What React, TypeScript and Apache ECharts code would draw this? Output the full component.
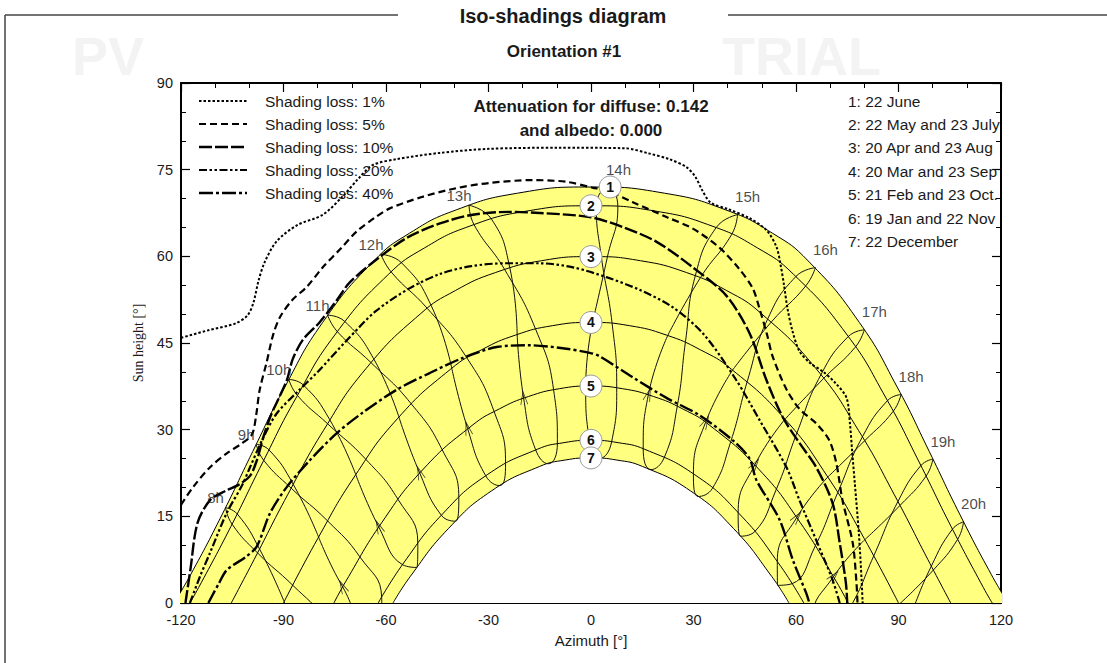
import React, { useEffect, useRef } from "react";
import * as echarts from "echarts";

const FONT = "'Liberation Sans', Arial, Helvetica, sans-serif";

// Sun paths (azimuth °, sun height °)
const PATH_1 = [[-122.06,0],[-117.2,4.89],[-108.0,15.27],[-99.03,26.19],[-89.6,37.39],[-78.55,48.55],[-63.58,59.2],[-53.15,63.99],[-39.45,68.04],[-21.5,70.93],[0,72.0],[21.5,70.93],[39.45,68.04],[53.15,63.99],[63.58,59.2],[78.55,48.55],[89.6,37.39],[99.03,26.19],[108.0,15.27],[117.2,4.89],[122.06,0]];
const PATH_2 = [[-117.43,0],[-114.84,2.67],[-105.42,13.21],[-96.17,24.24],[-86.35,35.47],[-74.78,46.55],[-59.24,56.91],[-48.72,61.46],[-35.44,65.24],[-18.93,67.82],[0,68.75],[18.93,67.82],[35.44,65.24],[48.72,61.46],[59.24,56.91],[74.78,46.55],[86.35,35.47],[96.17,24.24],[105.42,13.21],[114.84,2.67],[117.43,0]];
const PATH_3 = [[-105.29,0],[-98.6,7.52],[-88.8,18.72],[-78.27,29.89],[-65.86,40.57],[-49.83,50.1],[-39.72,54.07],[-27.92,57.2],[-14.49,59.24],[0,59.95],[14.49,59.24],[27.92,57.2],[39.72,54.07],[49.83,50.1],[65.86,40.57],[78.27,29.89],[88.8,18.72],[98.6,7.52],[105.29,0]];
const PATH_4 = [[-90,0],[-79.94,11.19],[-69.08,22.01],[-56.5,32.0],[-41.09,40.47],[-32.03,43.82],[-22.04,46.38],[-11.25,48.0],[0,48.55],[11.25,48.0],[22.04,46.38],[32.03,43.82],[41.09,40.47],[56.5,32.0],[69.08,22.01],[79.94,11.19],[90,0]];
const PATH_5 = [[-75.25,0],[-71.83,3.68],[-61.17,13.98],[-49.04,23.2],[-34.82,30.72],[-26.81,33.6],[-18.25,35.75],[-9.24,37.09],[0,37.55],[9.24,37.09],[18.25,35.75],[26.81,33.6],[34.82,30.72],[49.04,23.2],[61.17,13.98],[71.83,3.68],[75.25,0]];
const PATH_6 = [[-62.28,0],[-54.85,6.92],[-43.44,15.42],[-30.4,22.19],[-15.74,26.6],[-7.94,27.75],[0,28.15],[7.94,27.75],[15.74,26.6],[30.4,22.19],[43.44,15.42],[54.85,6.92],[62.28,0]];
const PATH_7 = [[-57.94,0],[-52.86,4.62],[-41.72,12.89],[-29.1,19.41],[-15.03,23.64],[-7.58,24.74],[0,25.11],[7.58,24.74],[15.03,23.64],[29.1,19.41],[41.72,12.89],[52.86,4.62],[57.94,0]];

// Hour-line points (8h ... 20h) for each date
const HOUR_LABELS = ["8h","9h","10h","11h","12h","13h","14h","15h","16h","17h","18h","19h","20h"];
const JUN = [[-106.96,16.5],[-97.99,27.47],[-88.45,38.69],[-77.11,49.82],[-61.47,60.36],[-35.7,68.85],[5.12,71.94],[42.9,67.22],[65.69,58.04],[79.99,47.28],[90.75,36.09],[100.07,24.91],[109.04,14.04]];
const MAY = [[-103.54,15.41],[-94.26,26.51],[-84.23,37.75],[-72.13,48.76],[-55.43,58.87],[-29.12,66.44],[7.86,68.59],[41.21,63.83],[62.89,54.9],[77.43,44.34],[88.47,33.19],[98.08,21.97],[107.3,11.01]];
const JUL = [[-105.05,13.64],[-95.79,24.69],[-85.93,35.92],[-74.26,46.98],[-58.49,57.3],[-34.25,65.5],[1.55,68.75],[36.63,64.98],[59.99,56.52],[75.3,46.12],[86.77,35.02],[96.55,23.79],[105.79,12.78]];
const APR = [[-97.01,9.34],[-87.17,20.56],[-76.43,31.69],[-63.59,42.25],[-46.79,51.5],[-23.78,58.06],[4.79,59.87],[32.06,56.34],[52.87,48.7],[68.13,38.89],[80.11,28.09],[90.43,16.88],[100.19,5.7]];
const AUG = [[-97.6,8.67],[-87.77,19.88],[-77.11,31.03],[-64.43,41.63],[-47.91,50.99],[-25.3,57.74],[3.03,59.92],[30.54,56.66],[51.75,49.21],[67.29,39.51],[79.43,28.75],[89.83,17.56],[99.6,6.37]];
const MAR = [[-89.8,0.22],[-79.73,11.41],[-68.85,22.22],[-56.22,32.19],[-40.75,40.62],[-21.62,46.46],[0.45,48.55],[22.46,46.3],[41.43,40.32],[56.78,31.81],[69.31,21.8],[80.15,10.97],[90.2,-0.22]];
const SEP = [[-87.29,3.07],[-77.12,14.22],[-65.92,24.88],[-52.73,34.56],[-36.4,42.49],[-16.22,47.4],[6.18,48.38],[27.65,45.23],[45.78,38.45],[60.27,29.44],[72.24,19.14],[82.76,8.16],[92.71,-3.07]];
const OCT = [[-77.74,-2.76],[-67.63,7.97],[-56.45,17.9],[-43.54,26.5],[-28.34,33.11],[-10.95,36.91],[7.53,37.24],[25.25,34.06],[40.89,27.91],[54.19,19.61],[65.65,9.89],[75.9,-0.72],[85.66,-11.79]];
const FEB = [[-82.52,-8.19],[-72.68,2.79],[-62.11,13.16],[-50.13,22.49],[-36.11,30.18],[-19.72,35.46],[-1.55,37.52],[16.78,36.04],[33.53,31.26],[47.95,23.91],[60.23,14.8],[70.98,4.57],[80.9,-6.33]];
const NOV = [[-70.9,-9.27],[-61.27,1.0],[-50.69,10.32],[-38.69,18.23],[-25.01,24.17],[-9.84,27.55],[6.05,27.92],[21.48,25.23],[35.56,19.86],[47.95,12.37],[58.84,3.34],[68.65,-6.74],[77.92,-17.49]];
const JAN = [[-74.7,-13.66],[-65.31,-3.12],[-55.17,6.64],[-43.81,15.19],[-30.82,22.02],[-16.2,26.51],[-0.48,28.15],[15.28,26.69],[29.98,22.36],[43.07,15.65],[54.53,7.2],[64.73,-2.5],[74.14,-13.02]];
const DEC = [[-70.44,-13.42],[-61.15,-3.17],[-51.03,6.15],[-39.64,14.16],[-26.76,20.32],[-12.46,24.1],[2.63,25.07],[17.56,23.09],[31.4,18.43],[43.76,11.56],[54.66,3.05],[64.45,-6.64],[73.56,-17.13]];

// Iso-shading lines
const ISO_1 = [[-120,45.9],[-112,47.2],[-104,48.4],[-100.5,49.8],[-98.8,52],[-97.3,55.8],[-95.5,59],[-92,62.6],[-86,65.4],[-78.5,67.2],[-72.5,70.5],[-68,73.5],[-63.9,75.8],[-57,76.8],[-44.3,77.9],[-30,78.6],[-10,78.8],[10,78.7],[17,77.8],[23,76.8],[28,75.4],[30.5,73.8],[32.5,71.5],[35,69.3],[40,68.2],[46.4,66.6],[51.4,64.5],[54.3,61.6],[55.5,58.5],[56.5,55],[57.5,51],[59,47],[61,43.6],[64,41.6],[68,40],[71.5,38.1],[74.8,35.5],[75.8,31],[76.4,26.5],[77.2,20.8],[78.4,12],[79.2,4],[79.5,0]];
const ISO_5 = [[-120,17],[-116.4,20.1],[-111.5,23.5],[-106.6,25.9],[-102,27.7],[-99.2,29.2],[-98,32.5],[-97,36.8],[-95,41.5],[-93,46.5],[-91,49.5],[-87.5,52.4],[-83.2,54.7],[-78.5,58.1],[-73,61.5],[-68.6,64.3],[-63,66.8],[-58.9,68.3],[-49.3,70.3],[-39.4,71.8],[-29.7,72.7],[-17.1,73.2],[-7.2,72.9],[0.4,71.9],[4.5,71.4],[12.1,69.4],[22.1,66.8],[29.8,64.8],[37.6,61.5],[43.4,57.8],[47.3,54.5],[49.3,51],[51.5,46.5],[53.2,42.6],[57.2,37],[61,33.6],[65.9,31.1],[69.7,28.2],[71.8,24.2],[73.6,17.8],[76.6,10.4],[77.7,3.5],[78,0]];
const ISO_10 = [[-118.7,0],[-117.2,6],[-115.2,13.8],[-111.5,17.8],[-107,19.4],[-103.3,20.4],[-99.8,22],[-97.8,24.7],[-95.9,28.7],[-93.9,32.2],[-91.9,34.8],[-89,38.6],[-87.3,42.2],[-84.4,45.5],[-79.4,48.6],[-74.4,52.4],[-70.6,55.5],[-61.8,59.9],[-53.9,63.2],[-44.2,65.7],[-34.6,67.2],[-23.8,67.7],[-15,67.5],[-0.4,66.8],[9.2,65.1],[19.2,62.5],[29.8,58.1],[39.6,53.2],[46.4,46.7],[51.4,38.5],[56.1,32.2],[61,27.7],[65.9,23.5],[70.7,17.3],[72.8,10.4],[74.6,3.5],[75,0]];
const ISO_20 = [[-117.4,0],[-114.5,4.5],[-111.5,8.7],[-106.6,15.6],[-102,20.5],[-99.8,23.5],[-96,28.5],[-92,32.8],[-86,36.5],[-80,40],[-71.4,45.5],[-63,50.5],[-53,54.5],[-44,57],[-35,58.3],[-25,58.8],[-15,58.8],[-5.3,58.1],[4.5,56.4],[14.2,54.2],[23.9,51.2],[33,46.5],[42.5,38.6],[49.3,31.7],[57.2,23.5],[61,17.8],[65.9,10.9],[70.7,4],[72.8,0]];
const ISO_40 = [[-112,0],[-109,3.3],[-106.6,5.7],[-101,8],[-97.8,9.8],[-93.9,15.6],[-89,20.1],[-82.3,24.7],[-74.4,29.4],[-66.7,33],[-56.9,36.9],[-47.2,39.8],[-37.6,42.4],[-27.6,44.3],[-18,44.6],[-8.3,44.1],[-0.4,43.3],[2.5,42.7],[12.1,39.1],[22.1,35.5],[31.7,32.5],[41.4,28.2],[46.4,25],[48.4,21.3],[55.2,14.4],[59.1,7.4],[63,1.7],[63.9,0]];

const LOSS_LABELS = ["Shading loss: 1%","Shading loss: 5%","Shading loss: 10%","Shading loss: 20%","Shading loss: 40%"];
const DATE_LABELS = ["1: 22 June","2: 22 May and 23 July","3: 20 Apr and 23 Aug","4: 20 Mar and 23 Sep","5: 21 Feb and 23 Oct.","6: 19 Jan and 22 Nov","7: 22 December"];
const CIRCLE_LABELS = ["1","2","3","4","5","6","7"];
const CIRCLE_POS = [[5.6,72.0],[0,68.75],[0,59.95],[0,48.55],[0,37.55],[0,28.15],[0,25.11]];

export default function App() {
  const ref = useRef<HTMLDivElement>(null);
  useEffect(() => {
    const chart = echarts.init(ref.current!, null, { renderer: "svg" });
    const isoLines = [ISO_1, ISO_5, ISO_10, ISO_20, ISO_40];
    const dashes = [[2.5, 2], [7, 4], [13, 3], [8, 2.5, 2.5, 2.5, 2.5, 2.5], [14, 3, 3, 3]];
    const widths = [2, 2.2, 2.4, 2.2, 2.4];
    const dateRows = [MAR, APR, MAY, JUN, JUL, AUG, SEP, OCT, NOV, DEC, JAN, FEB, MAR];
    const loops = HOUR_LABELS.map((_, i) => dateRows.map((r) => r[i]));

    const txt = (text: string, x: number, y: number, size: number, bold = false, align = "left", z = 100) => ({
      type: "text", z, silent: true,
      style: { text, x, y, font: `${bold ? "bold " : ""}${size}px ${FONT}`, fill: "#1a1a1a",
        textAlign: align, align, textVerticalAlign: "middle", verticalAlign: "middle" },
    });
    const wm = (text: string, x: number) => ({
      type: "text", z: -10, silent: true,
      style: { text, x, y: 29, font: `bold 54px ${FONT}`, fill: "#f3f3f3", textAlign: "left", align: "left", textVerticalAlign: "top", verticalAlign: "top" },
    });

    const graphic: any[] = [
      wm("PV", 72),
      wm("TRIAL", 722),
      { type: "line", z: 100, silent: true, shape: { x1: 5, y1: 15, x2: 398, y2: 15 }, style: { stroke: "#444", lineWidth: 1.5 } },
      { type: "line", z: 100, silent: true, shape: { x1: 728, y1: 15, x2: 1107, y2: 15 }, style: { stroke: "#444", lineWidth: 1.5 } },
      { type: "line", z: 100, silent: true, shape: { x1: 5, y1: 15, x2: 5, y2: 663 }, style: { stroke: "#444", lineWidth: 1.5 } },
      txt("Iso-shadings diagram", 563, 16, 20, true, "center"),
      txt("Orientation #1", 564, 51, 17, true, "center"),
      txt("Attenuation for diffuse: 0.142", 591, 106, 17, true, "center"),
      txt("and albedo: 0.000", 591, 130, 17, true, "center"),
    ];
    LOSS_LABELS.forEach((t, i) => {
      const y = 101 + i * 23;
      graphic.push({ type: "line", z: 100, silent: true, shape: { x1: 199, y1: y, x2: 247, y2: y }, style: { stroke: "#000", lineWidth: widths[i], lineDash: dashes[i] } });
      graphic.push(txt(t, 265, y, 15.5));
    });
    DATE_LABELS.forEach((t, i) => graphic.push(txt(t, 848, 101 + i * 23.4, 15.5)));
    graphic.push({ type: "rect", z: 101, silent: true, shape: { x: 1002.5, y: 86, width: 105, height: 170 }, style: { fill: "#fff" } });

    const axisCommon = {
      type: "value",
      axisLine: { onZero: false, lineStyle: { color: "#000", width: 2 } },
      axisTick: { inside: true, length: 9, lineStyle: { color: "#000", width: 1.2 } },
      minorTick: { show: true, splitNumber: 3, length: 5, lineStyle: { color: "#000", width: 1 } },
      splitLine: { show: false },
    };
    const labelStyle = { fontSize: 14.5, color: "#1a1a1a", fontFamily: FONT };

    const series: any[] = [
      { type: "line", data: PATH_1, smooth: true, symbol: "none", silent: true, z: 1, lineStyle: { color: "#000", width: 1 }, areaStyle: { color: "#ffff80", opacity: 1 } },
      { type: "line", data: PATH_7, smooth: true, symbol: "none", silent: true, z: 2, lineStyle: { color: "#000", width: 1 }, areaStyle: { color: "#ffffff", opacity: 1 } },
    ];
    [PATH_2, PATH_3, PATH_4, PATH_5, PATH_6].forEach((p) =>
      series.push({ type: "line", data: p, smooth: true, symbol: "none", silent: true, z: 3, lineStyle: { color: "#000", width: 1 } })
    );
    loops.forEach((l) =>
      series.push({ type: "line", data: l, smooth: true, symbol: "none", silent: true, z: 3, lineStyle: { color: "#111", width: 1 } })
    );
    isoLines.forEach((l, i) =>
      series.push({ type: "line", data: l, smooth: 0.3, symbol: "none", silent: true, z: 4, lineStyle: { color: "#000", width: widths[i], type: dashes[i] } })
    );
    // direction arrows on the hour loops (at the February points, pointing toward March)
    series.push({
      id: "arrows", type: "scatter", data: FEB, symbol: "path://M0,14L4,0L8,14", symbolSize: [7, 13], silent: true, z: 5, clip: true,
      itemStyle: { color: "rgba(0,0,0,0)", borderColor: "#111", borderWidth: 1 },
    });
    series.push({
      type: "scatter", data: CIRCLE_POS, symbol: "circle", symbolSize: 22, silent: true, z: 10,
      itemStyle: { color: "#fff", borderColor: "#999", borderWidth: 1, opacity: 1 },
      label: { show: true, position: "inside", formatter: (p: any) => CIRCLE_LABELS[p.dataIndex], fontWeight: "bold", fontSize: 14, color: "#111", fontFamily: FONT },
    });
    series.push({
      type: "scatter", symbol: "circle", symbolSize: 1, silent: true, z: 11,
      itemStyle: { color: "rgba(0,0,0,0)" },
      data: JUN.map((p, i) => ({ value: p, label: { offset: i < 6 ? [-10, -10] : [10, -18] } })),
      label: { show: true, position: "inside", formatter: (p: any) => HOUR_LABELS[p.dataIndex], fontSize: 15, color: "#1a1a1a", fontFamily: FONT },
    });

    chart.setOption({
      animation: false,
      graphic,
      grid: { left: 181, right: 106, top: 83, bottom: 60, show: true, backgroundColor: "#fff", borderWidth: 0 },
      xAxis: [
        { ...axisCommon, min: -120, max: 120, interval: 30, position: "bottom",
          axisLabel: { ...labelStyle, margin: 9 },
          name: "Azimuth [°]", nameLocation: "middle", nameGap: 30, nameTextStyle: { ...labelStyle, fontSize: 15 } },
        { ...axisCommon, min: -120, max: 120, interval: 30, position: "top", axisLabel: { show: false } },
      ],
      yAxis: [
        { ...axisCommon, min: 0, max: 90, interval: 15, position: "left",
          axisLabel: { ...labelStyle, margin: 8 },
          name: "Sun height [°]", nameLocation: "middle", nameGap: 36, nameRotate: 90,
          nameTextStyle: { fontSize: 14, color: "#1a1a1a", fontFamily: "'Liberation Serif', 'DejaVu Serif', serif" } },
        { ...axisCommon, min: 0, max: 90, interval: 15, position: "right", axisLabel: { show: false } },
      ],
      series,
    });

    // orient each arrow along its loop (from the February point toward the March point)
    const arrowData = FEB.map((p, i) => {
      const a = chart.convertToPixel({ gridIndex: 0 }, p) as number[];
      const b = chart.convertToPixel({ gridIndex: 0 }, MAR[i]) as number[];
      const cw = (Math.atan2(b[0] - a[0], -(b[1] - a[1])) * 180) / Math.PI;
      return { value: p, symbolRotate: -cw };
    });
    chart.setOption({ series: [{ id: "arrows", data: arrowData }] });

    return () => chart.dispose();
  }, []);
  return <div ref={ref} style={{ position: "fixed", left: 0, top: 0, width: 1107, height: 663, background: "#fff" }} />;
}
